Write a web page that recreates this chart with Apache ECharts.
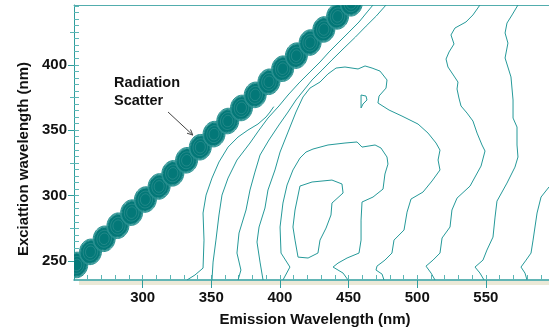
<!DOCTYPE html>
<html>
<head>
<meta charset="utf-8">
<script src="https://cdn.jsdelivr.net/npm/echarts@6/dist/echarts.min.js"></script>
<style>
  html, body { margin: 0; padding: 0; background: #ffffff; }
  #chart { width: 549px; height: 330px; }
</style>
</head>
<body>
<div id="chart"></div>
<script>
// Axis ranges (nm)
const emissionRange = [250, 596];
const excitationRange = [235.5, 445.7];

// Tick labels
const emissionTicks = [300, 350, 400, 450, 500, 550];
const excitationTicks = [250, 300, 350, 400];
const excitationMidTicks = [275, 325, 375, 425];

// Rayleigh scatter peaks along the Ex ≈ Em diagonal
const scatterEmission   = [252, 262, 272, 282, 292, 302, 312, 322, 332, 342, 352, 362, 372, 382, 392, 402, 412, 422, 432, 442, 452];
const scatterExcitation = [247, 257, 267, 277, 287, 297, 307, 317, 327, 337, 347, 357, 367, 377, 387, 397, 407, 417, 427, 437, 447];

// Fluorescence contour lines, [emission, excitation]
const contourL1 = [[332.3,235.5],[338.1,239.3],[344.0,244.6],[344.7,266.0],[344.0,286.7],[346.2,300.4],[350.5,313.4],[355.6,325.7],[362.2,337.1],[369.5,344.8],[376.7,350.1],[384.0,354.7],[389.9,360.1],[392.8,363.9],[395.5,368.0]];
const contourL2 = [[350.5,235.5],[351.3,249.2],[353.4,266.0],[355.6,285.2],[357.8,300.4],[362.2,313.4],[368.7,327.2],[378.2,340.2],[384.8,350.1],[391.3,359.3],[399.3,368.5],[405.9,376.9],[413.9,386.1],[421.9,394.5],[429.2,402.1],[435.8,409.8],[443.0,417.4],[450.3,425.0],[457.6,432.7],[463.6,440.4],[467.8,445.7]];
const contourL3 = [[369.5,235.5],[371.6,243.1],[368.7,256.1],[370.2,271.4],[375.3,289.0],[378.2,304.3],[381.8,318.0],[385.5,331.0],[392.0,342.5],[399.3,354.0],[405.9,363.9],[411.7,373.1],[417.5,380.7],[423.4,388.4],[430.7,396.0],[437.9,403.7],[446.7,412.8],[455.0,421.2],[462.8,429.6],[470.2,437.3],[477.3,445.7]];
const contourOuter = [[387.7,235.5],[385.5,249.2],[383.3,264.5],[384.8,276.0],[389.1,290.5],[391.3,304.3],[396.4,319.6],[400.1,333.3],[405.9,348.6],[411.7,363.9],[416.8,375.4],[421.9,382.2],[429.2,386.8],[435.0,393.0],[440.9,397.5],[447.4,398.3],[456.9,396.8],[462.0,399.1],[467.1,397.5],[472.9,395.2],[478.0,388.4],[477.3,382.2],[472.2,376.1],[471.4,370.8],[479.5,365.4],[488.9,360.8],[500.6,354.7],[507.9,347.8],[513.7,340.2],[516.6,334.8],[515.2,327.2],[516.6,319.6],[510.8,311.2],[504.2,302.7],[495.5,297.4],[492.6,287.4],[490.4,273.7],[483.1,266.0],[481.6,256.1],[476.5,250.7],[470.7,246.1],[470.0,243.1],[474.4,240.0],[475.8,235.5]];
const contourMid = [[402.2,235.5],[407.3,245.4],[400.8,256.1],[400.1,276.0],[402.2,294.3],[405.2,308.1],[409.5,319.6],[414.6,328.7],[419.0,333.3],[424.1,335.6],[435.0,338.7],[447.4,340.2],[456.2,341.0],[459.8,337.1],[469.3,338.7],[473.6,336.4],[478.0,329.5],[478.7,324.1],[476.5,316.5],[475.1,305.0],[467.8,298.9],[459.8,295.1],[459.1,281.3],[459.1,266.0],[457.6,256.1],[448.9,252.3],[442.3,248.4],[438.7,245.4],[446.0,240.8],[449.6,235.5]];
const contourCore = [[414.6,307.3],[423.4,310.4],[437.9,311.9],[445.2,308.9],[446.0,302.0],[437.9,294.3],[437.2,285.2],[433.6,275.2],[429.2,266.0],[427.7,256.1],[420.5,252.3],[413.2,253.0],[411.0,266.0],[409.5,276.0],[411.0,289.0],[414.6,307.3]];
const contourNotch = [[459.1,376.9],[459.1,367.0],[460.5,370.0],[463.4,373.1],[462.7,376.1],[459.1,376.9]];
const contourR2 = [[545.7,445.7],[540.6,438.1],[535.5,432.7],[527.5,428.1],[524.6,422.8],[526.8,415.9],[523.2,409.8],[521.0,404.4],[522.4,398.3],[526.8,391.4],[529.7,386.8],[529.0,381.5],[530.4,374.6],[531.9,368.5],[536.3,363.1],[540.6,357.0],[543.6,347.8],[547.2,338.7],[549.4,334.1],[546.5,322.6],[538.5,307.3],[529.0,298.1],[525.3,289.0],[523.9,276.0],[518.1,267.6],[516.6,256.1],[511.5,250.7],[506.4,246.1],[510.1,240.8],[513.0,235.5]];
const contourR3 = [[573.4,445.7],[569.1,438.1],[565.4,431.9],[564.0,424.3],[566.1,416.6],[564.0,405.2],[568.3,390.7],[569.8,373.1],[569.8,359.3],[572.7,352.4],[572.7,338.7],[573.4,329.5],[571.2,321.8],[565.4,309.6],[558.1,295.8],[556.7,283.6],[555.2,268.3],[550.8,258.4],[547.9,250.7],[542.1,245.4],[545.7,240.8],[548.7,235.5]];
const contourR4 = [[600.0,310.0],[596.0,306.6],[590.2,298.9],[587.3,286.7],[585.8,276.0],[584.4,266.0],[582.9,256.1],[579.3,250.7],[575.6,245.4],[578.5,240.8],[580.0,235.5]];

const contours = [contourL1, contourL2, contourL3, contourOuter, contourMid, contourCore, contourNotch, contourR2, contourR3, contourR4];

// Annotation anchor (emission, excitation)
const arrowTail = [318.5, 363.9];
const arrowTip  = [336.5, 346.3];

const FONT = '"Liberation Sans", Arial, sans-serif';
const AXIS = '#2f9d9d';
const TICK = '#5db6b6';
const LINE = '#259999';
const BLOB = '#037878';
const BLOB_EDGE = '#2a9292';

function ticksEvery(step, from, to) {
  const out = [];
  for (let v = from; v <= to + 1e-9; v += step) out.push(v);
  return out;
}
const emissionMinor = ticksEvery(10, 260, 590);
const excitationMinor = ticksEvery(5, 240, 445);

function ellipsePoints(cx, cy, rx, ry, tilt) {
  const pts = [];
  const n = 48, ct = Math.cos(tilt), st = Math.sin(tilt);
  for (let i = 0; i < n; i++) {
    const a = 2 * Math.PI * i / n;
    const x = rx * Math.cos(a), y = ry * Math.sin(a);
    pts.push([cx + x * ct - y * st, cy + x * st + y * ct]);
  }
  return pts;
}

const chart = echarts.init(document.getElementById('chart'), null, { renderer: 'canvas' });

const gridBox = { left: 74, right: 0, top: 5, bottom: 50, containLabel: false };
const hidden = { show: false };

function valueAxis(extra, range) {
  return Object.assign({
    type: 'value', min: range[0], max: range[1],
    splitLine: hidden, axisLabel: hidden, axisTick: hidden, axisLine: hidden
  }, extra);
}

const series = contours.map(pts => ({
  type: 'line',
  data: pts,
  xAxisIndex: 0, yAxisIndex: 0,
  showSymbol: false, symbol: 'none',
  lineStyle: { color: LINE, width: 1 },
  silent: true, clip: true, z: 2
}));

// Each scatter peak is drawn as a stack of concentric contour rings
series.push({
  type: 'custom',
  xAxisIndex: 0, yAxisIndex: 0,
  data: scatterEmission.map((em, i) => [em, scatterExcitation[i]]),
  clip: true, z: 5, silent: true,
  renderItem: function (params, api) {
    const c = api.coord([api.value(0), api.value(1)]);
    const s = api.size([8.0, 9.8]);
    const tilt = 0.15;
    const children = [];
    [1.0, 0.95, 0.9].forEach(f => children.push({
      type: 'polygon',
      shape: { points: ellipsePoints(c[0], c[1], s[0] * f, s[1] * f, tilt) },
      style: { fill: null, stroke: BLOB_EDGE, lineWidth: 1 }
    }));
    children.push({
      type: 'polygon',
      shape: { points: ellipsePoints(c[0], c[1], s[0] * 0.85, s[1] * 0.85, tilt) },
      style: { fill: BLOB, stroke: BLOB, lineWidth: 1 }
    });
    [0.66, 0.45].forEach(f => children.push({
      type: 'polygon',
      shape: { points: ellipsePoints(c[0], c[1], s[0] * f, s[1] * f, tilt) },
      style: { fill: null, stroke: 'rgba(255,255,255,0.12)', lineWidth: 1 }
    }));
    return { type: 'group', children: children };
  }
});

chart.setOption({
  animation: false,
  backgroundColor: '#ffffff',
  grid: [gridBox, gridBox, gridBox],
  xAxis: [
    valueAxis({
      gridIndex: 0, position: 'bottom',
      axisLine: { show: true, onZero: false, lineStyle: { color: AXIS, width: 1.5 } },
      axisTick: { show: true, inside: true, length: 5, customValues: emissionMinor, lineStyle: { color: TICK, width: 1 } }
    }, emissionRange),
    valueAxis({
      gridIndex: 1, position: 'bottom',
      axisTick: { show: true, inside: false, length: 8, customValues: emissionTicks, lineStyle: { color: AXIS, width: 1 } },
      axisLabel: { show: true, customValues: emissionTicks, margin: 10, color: '#111', fontSize: 15, fontWeight: 'bold', fontFamily: FONT }
    }, emissionRange),
    valueAxis({
      gridIndex: 2, position: 'top',
      axisLine: { show: true, onZero: false, lineStyle: { color: '#52adad', width: 1 } }
    }, emissionRange)
  ],
  yAxis: [
    valueAxis({
      gridIndex: 0, position: 'left',
      axisLine: { show: true, onZero: false, lineStyle: { color: AXIS, width: 1 } },
      axisTick: { show: true, inside: true, length: 5, customValues: excitationMinor, lineStyle: { color: TICK, width: 1 } }
    }, excitationRange),
    valueAxis({
      gridIndex: 1, position: 'left',
      axisTick: { show: true, inside: false, length: 6, customValues: excitationTicks, lineStyle: { color: AXIS, width: 1 } },
      axisLabel: { show: true, customValues: excitationTicks, margin: 7, color: '#111', fontSize: 15, fontWeight: 'bold', fontFamily: FONT }
    }, excitationRange),
    valueAxis({
      gridIndex: 2, position: 'left',
      axisTick: { show: true, inside: false, length: 4, customValues: excitationMidTicks, lineStyle: { color: TICK, width: 1 } }
    }, excitationRange)
  ],
  series: series
});

// Decorations: baseline strip, axis titles and the scatter annotation
const tail = chart.convertToPixel({ gridIndex: 0 }, arrowTail);
const tip = chart.convertToPixel({ gridIndex: 0 }, arrowTip);
const dx = tip[0] - tail[0], dy = tip[1] - tail[1];
const len = Math.sqrt(dx * dx + dy * dy);
const ux = dx / len, uy = dy / len;
const head = 6, spread = 0.44;
function headPoint(sign) {
  const c = Math.cos(sign * spread), s = Math.sin(sign * spread);
  const bx = -ux, by = -uy;
  return [tip[0] + head * (bx * c - by * s), tip[1] + head * (bx * s + by * c)];
}

chart.setOption({
  graphic: [
    { type: 'rect', z: 0, shape: { x: 79, y: 281, width: 470, height: 4 }, style: { fill: '#ebe9d7' } },
    { type: 'text', x: 315, y: 320, style: { text: 'Emission Wavelength (nm)', textAlign: 'center', textVerticalAlign: 'middle', fill: '#111', fontSize: 15, fontWeight: 'bold', fontFamily: FONT } },
    { type: 'text', x: 24, y: 159, rotation: Math.PI / 2, style: { text: 'Exciattion wavelength (nm)', textAlign: 'center', textVerticalAlign: 'middle', fill: '#111', fontSize: 15, fontWeight: 'bold', fontFamily: FONT } },
    { type: 'text', x: 114, y: 83, style: { text: 'Radiation', textAlign: 'left', textVerticalAlign: 'middle', fill: '#111', fontSize: 14.5, fontWeight: 'bold', fontFamily: FONT } },
    { type: 'text', x: 114, y: 100.5, style: { text: 'Scatter', textAlign: 'left', textVerticalAlign: 'middle', fill: '#111', fontSize: 14.5, fontWeight: 'bold', fontFamily: FONT } },
    { type: 'line', shape: { x1: tail[0], y1: tail[1], x2: tip[0], y2: tip[1] }, style: { stroke: '#444', lineWidth: 1 } },
    { type: 'polyline', shape: { points: [headPoint(1), tip, headPoint(-1)] }, style: { stroke: '#444', lineWidth: 1, fill: null } }
  ]
});
</script>
</body>
</html>
